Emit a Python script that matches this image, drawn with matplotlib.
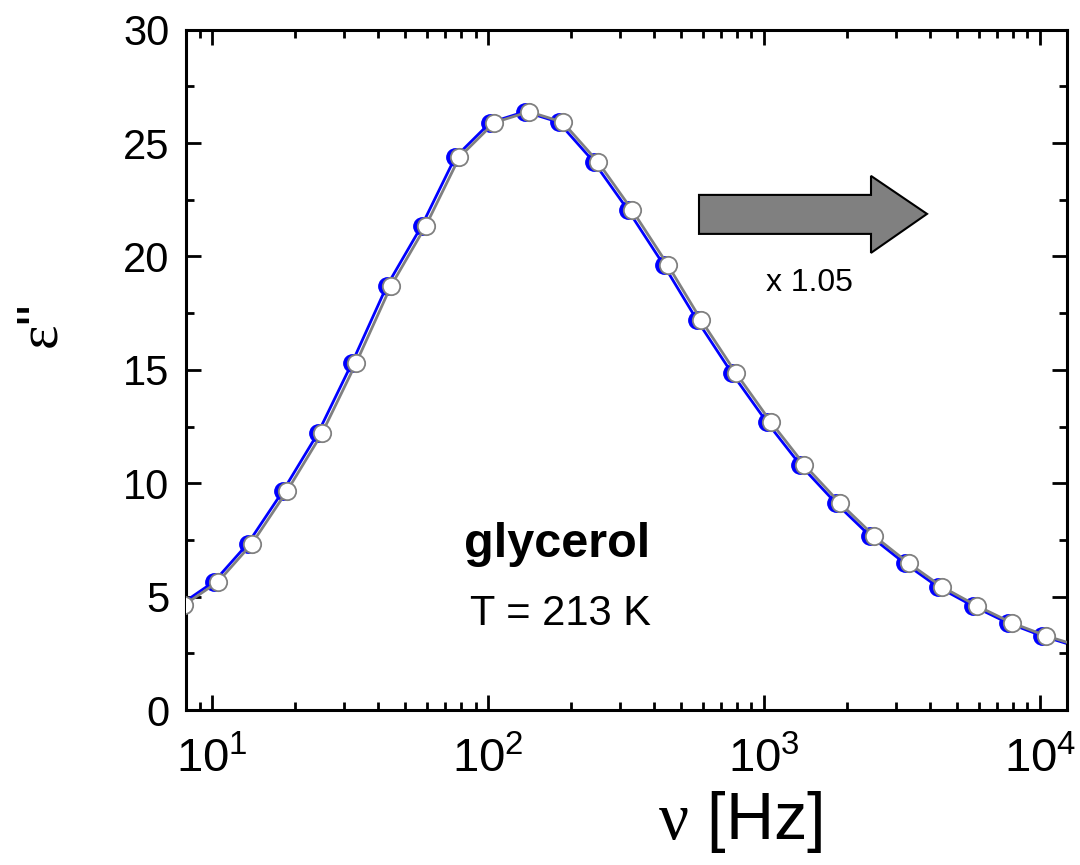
import numpy as np
import matplotlib
matplotlib.use("Agg")
import matplotlib.pyplot as plt
from matplotlib.patches import Polygon
from matplotlib.ticker import LogLocator, FixedLocator, FuncFormatter, NullFormatter

plt.rcParams['font.family'] = ['Liberation Sans', 'DejaVu Sans']
plt.rcParams['mathtext.fontset'] = 'custom'
plt.rcParams['mathtext.rm'] = 'Liberation Serif'
plt.rcParams['mathtext.default'] = 'regular'

# glycerol, T = 213 K : dielectric loss vs frequency
freq = [7.90, 10.51, 13.93, 18.65, 24.98, 33.18, 44.43, 59.36, 78.59, 105.2,
        140.6, 186.2, 249.4, 332.0, 447.3, 590.6, 791.2, 1059, 1399, 1884,
        2502, 3344, 4414, 5910, 7913, 10512, 14020]
eps2 = [4.63, 5.66, 7.34, 9.65, 12.20, 15.29, 18.70, 21.34, 24.37, 25.90,
        26.38, 25.92, 24.18, 22.05, 19.63, 17.20, 14.85, 12.69, 10.81, 9.12,
        7.68, 6.47, 5.43, 4.59, 3.84, 3.27, 2.80]
shift = 1.035   # blue curve: same data, slightly shifted in frequency

freq_blue = [f / shift for f in freq]

fig = plt.figure(figsize=(10.8, 8.65), dpi=100)
ax = fig.add_axes([186/1080, 1 - 710/865, 881/1080, 680.4/865])

ax.plot(freq_blue, eps2, color='#0000ff', lw=2.0, marker='o', ms=12.5,
        mfc='#0000ff', mec='#0000ff', mew=1.0, zorder=2, clip_on=True)
ax.plot(freq, eps2, color='#808080', lw=2.0, marker='o', ms=12.5,
        mfc='white', mec='#808080', mew=1.3, zorder=3, clip_on=True)

ax.set_xscale('log')
ax.set_xlim(8.03, 12527)
ax.set_ylim(0, 30)

ax.xaxis.set_major_locator(FixedLocator([10, 100, 1000, 10000]))
ax.xaxis.set_minor_locator(LogLocator(base=10, subs=np.arange(2, 10)))
ax.xaxis.set_major_formatter(FuncFormatter(
    lambda v, p: r'$\mathregular{10^{%d}}$' % round(np.log10(v))))
ax.xaxis.set_minor_formatter(NullFormatter())
ax.set_yticks([0, 5, 10, 15, 20, 25, 30])
ax.set_yticks(np.arange(2.5, 30, 5), minor=True)

for s in ax.spines.values():
    s.set_linewidth(2.2)
ax.tick_params(which='both', direction='in', top=True, right=True, width=2.0)
ax.tick_params(which='major', length=11)
ax.tick_params(which='minor', length=6)
ax.tick_params(axis='x', which='major', pad=20, labelsize=34)
ax.tick_params(axis='y', which='major', pad=12, labelsize=30)

ax.text(178, 7.28, 'glycerol', fontsize=35, fontweight='bold',
        ha='center', va='center')
ax.text(182, 4.24, 'T = 213 K', fontsize=30, ha='center', va='center')
ax.text(1455, 18.83, 'x 1.05', fontsize=23, ha='center', va='center')

# shift arrow (axes fraction coordinates)
def afx(px):
    return (px - 186) / 881

def afy(py):
    return (710.1 - py) / 680.4

arrow_pts = [(afx(699), afy(195)), (afx(871), afy(195)), (afx(871), afy(176)),
             (afx(927), afy(214)), (afx(871), afy(253)), (afx(871), afy(234)),
             (afx(699), afy(234))]
ax.add_patch(Polygon(arrow_pts, closed=True, transform=ax.transAxes,
                     facecolor='#808080', edgecolor='black', lw=1.5, zorder=4))

fig.text(740 / 1080, 1 - 822 / 865, r'$\mathrm{\nu}$ [Hz]', fontsize=48,
         ha='center', va='center')
fig.text(42 / 1080, 1 - 328 / 865, r'$\mathrm{\varepsilon}$"', fontsize=42,
         rotation=90, ha='center', va='center')

fig.savefig('out.png', dpi=100)
